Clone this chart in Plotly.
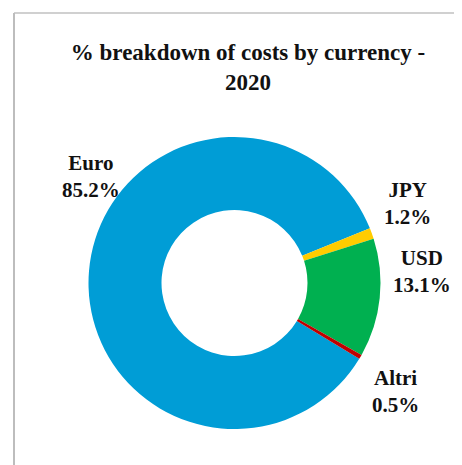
import plotly.graph_objects as go

currencies = ["Euro", "JPY", "USD", "Altri"]
shares = [85.2, 1.2, 13.1, 0.5]
colors = ["#009DD6", "#FFCC00", "#00B050", "#C00000"]

# page body adds an 8px offset, so the figure is a bit smaller than the window
OFF = 8
W, H = 462 - OFF, 465 - OFF


def px_x(x):
    return (x - OFF) / W


def px_y(y):
    return (H - (y - OFF)) / H


fig = go.Figure()

fig.add_trace(go.Pie(
    labels=currencies,
    values=shares,
    sort=False,
    direction="clockwise",
    rotation=121.3,
    hole=0.5,
    marker=dict(colors=colors, line=dict(width=0)),
    textinfo="none",
    showlegend=False,
    domain=dict(x=[px_x(88.5), px_x(380.5)], y=[px_y(429), px_y(137)]),
))

# label positions (pixels in the window), text comes from the data
label_pos = [(91, 176), (407, 203), (422, 272), (395, 391)]
for name, val, (lx, ly) in zip(currencies, shares, label_pos):
    fig.add_annotation(
        x=px_x(lx), y=px_y(ly), xref="paper", yref="paper",
        xanchor="center", yanchor="middle",
        text="<b>%s<br>%.1f%%</b>" % (name, val),
        showarrow=False, align="center",
        font=dict(family="Liberation Serif", size=21, color="#111111"),
    )

# chart frame (top and left edges visible)
fig.add_shape(type="line", xref="paper", yref="paper",
              x0=px_x(14), x1=1, y0=px_y(13), y1=px_y(13),
              line=dict(color="#D0D0D0", width=2))
fig.add_shape(type="line", xref="paper", yref="paper",
              x0=px_x(14), x1=px_x(14), y0=0, y1=px_y(13),
              line=dict(color="#BDBDBD", width=2))

fig.update_layout(
    width=W, height=H,
    margin=dict(l=0, r=0, t=0, b=0),
    paper_bgcolor="white",
    title=dict(
        text="<b>% breakdown of costs by currency -<br>2020</b>",
        x=px_x(248), xanchor="center", y=px_y(60), yanchor="middle",
        font=dict(family="Liberation Serif", size=23, color="#111111"),
    ),
)

fig.write_html("out.html")
